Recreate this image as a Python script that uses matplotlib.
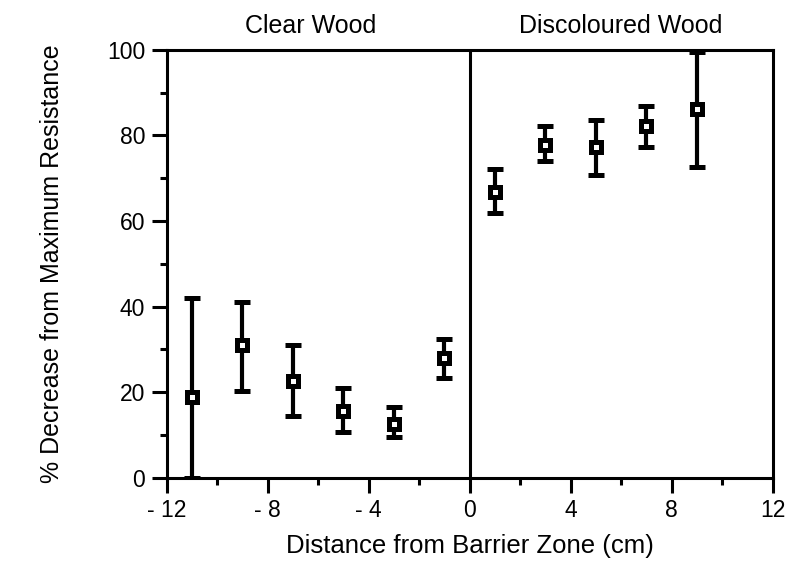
import numpy as np
import matplotlib.pyplot as plt

plt.rcParams['font.family'] = ['Liberation Sans', 'DejaVu Sans']

# =========================
# data
# =========================
distance = [-11, -9, -7, -5, -3, -1, 1, 3, 5, 7, 9]
decrease = [19.0, 31.1, 22.7, 15.7, 12.5, 28.0, 66.9, 77.8, 77.2, 82.2, 86.1]
err_low = [0.0, 20.2, 14.5, 10.7, 9.5, 23.4, 61.8, 74.1, 70.8, 77.2, 72.7]
err_high = [42.0, 41.2, 31.1, 21.0, 16.5, 32.5, 72.1, 82.3, 83.6, 86.8, 99.6]

x_ticks = [-12, -8, -4, 0, 4, 8, 12]
x_ticklabels = ['- 12', '- 8', '- 4', '0', '4', '8', '12']
y_ticks = [0, 20, 40, 60, 80, 100]

dec = np.array(decrease)
yerr = [dec - np.array(err_low), np.array(err_high) - dec]

# =========================
# plot
# =========================
fig = plt.figure(figsize=(7.9, 5.73), dpi=100)
ax = fig.add_axes([0.211, 0.166, 0.767, 0.747])

ax.axvline(0, color='black', lw=2.2, zorder=1)
ax.errorbar(distance, decrease, yerr=yerr, fmt='s', color='black',
            ecolor='black', elinewidth=3.0, capsize=5.5, capthick=3.0,
            markersize=7.2, markeredgewidth=3.6, markerfacecolor='white',
            markeredgecolor='black', zorder=3)

ax.set_xlim(-12, 12)
ax.set_ylim(0, 100)
ax.set_xticks(x_ticks)
ax.set_xticklabels(x_ticklabels)
ax.set_xticks(np.arange(-10, 12, 4), minor=True)
ax.set_yticks(y_ticks)
ax.set_yticks(np.arange(10, 100, 20), minor=True)

for s in ax.spines.values():
    s.set_linewidth(2.2)
ax.tick_params(which='major', direction='out', length=10.5, width=2.2,
               labelsize=16.5, pad=5)
ax.tick_params(which='minor', direction='out', length=5, width=2.2)

ax.set_xlabel('Distance from Barrier Zone (cm)', fontsize=18.5, labelpad=8)
ax.set_ylabel('% Decrease from Maximum Resistance', fontsize=18)
ax.yaxis.set_label_coords(-0.17, 0.5)

ax.text(-6.3, 104, 'Clear Wood', ha='center', va='baseline', fontsize=18)
ax.text(6, 104, 'Discoloured Wood', ha='center', va='baseline', fontsize=18)

fig.savefig('out.png', dpi=100)
